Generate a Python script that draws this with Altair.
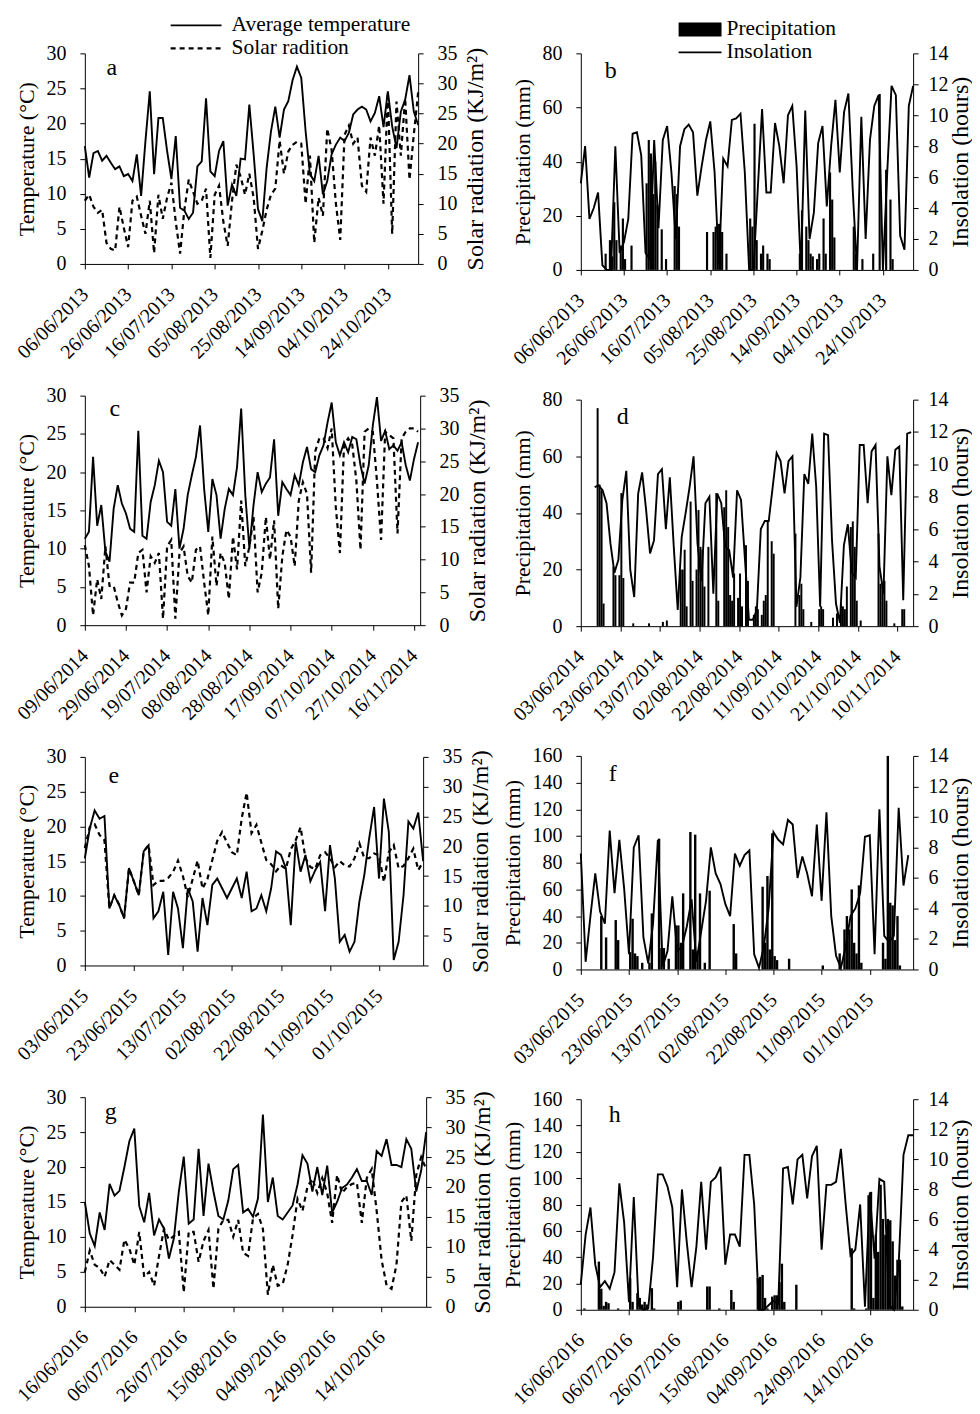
import altair as alt
import pandas as pd

FONT = "Liberation Serif"

# ---------------- 2013 (panels a, b) ----------------
A_START = "2013-06-06"
A_DOMAIN = ["2013-06-06", "2013-11-07"]
A_TICKS = ["2013-06-06", "2013-06-26", "2013-07-16", "2013-08-05",
           "2013-08-25", "2013-09-14", "2013-10-04", "2013-10-24"]
a_temp = [16.8, 12.3, 15.8, 16.1, 14.7, 15.4, 14.4, 13.5, 13.9, 12.5,
          12.8, 11.8, 15.6, 9.7, 17.5, 24.6, 12.8, 20.8, 20.8, 16.1,
          12.1, 18.2, 8.0, 7.6, 6.4, 7.3, 13.9, 14.6, 23.6, 13.2,
          12.5, 16.1, 17.5, 8.3, 11.3, 9.7, 15.0, 14.9, 22.7, 15.6,
          7.8, 6.1, 13.7, 18.9, 22.4, 18.0, 22.0, 23.2, 26.2, 28.1,
          26.5, 18.9, 12.8, 11.8, 15.4, 9.9, 11.8, 15.6, 17.0, 18.0,
          17.5, 18.7, 21.3, 22.0, 22.4, 22.0, 20.3, 21.5, 23.9, 19.5,
          24.6, 19.6, 16.5, 21.7, 23.4, 26.9, 21.7, 19.8]
a_solar = [10.5, 11.5, 9.5, 8.5, 9.0, 3.5, 2.5, 2.2, 9.5, 6.0,
           2.8, 10.5, 11.2, 8.0, 5.0, 10.5, 1.8, 11.5, 7.5, 11.0,
           13.5, 7.0, 1.7, 9.0, 14.0, 12.0, 10.0, 10.5, 12.5, 1.0,
           11.5, 13.0, 7.0, 3.0, 10.5, 16.5, 14.5, 11.5, 15.0, 11.0,
           2.5, 5.5, 9.0, 11.5, 12.5, 20.5, 15.0, 18.7, 19.8, 20.3,
           20.0, 10.0, 18.0, 3.5, 11.0, 8.0, 22.5, 19.0, 10.0, 4.0,
           21.5, 23.0, 20.0, 21.0, 13.0, 12.0, 21.0, 18.0, 23.0, 10.0,
           28.5, 5.0, 27.0, 18.0, 27.5, 14.0, 21.5, 28.5]
b_insol = [5.6, 8.0, 3.3, 4.0, 5.0, 0.3, 0, 0, 8.0, 1.1,
           1.8, 3.3, 8.8, 8.9, 7.4, 1.1, 0.7, 8.4, 2.7, 8.4,
           9.3, 6.3, 2.0, 8.0, 9.1, 9.4, 8.9, 4.8, 6.7, 8.4,
           9.6, 6.3, 0.3, 7.2, 6.7, 9.7, 9.8, 10.1, 6.3, 0,
           0, 5.2, 10.4, 5.0, 5.0, 9.5, 8.0, 5.6, 10.0, 10.6,
           6.7, 0, 10.3, 2.0, 3.7, 8.2, 9.3, 4.1, 8.0, 11.0,
           6.3, 10.2, 11.4, 5.2, 0, 9.9, 2.0, 8.4, 10.6, 11.3,
           0, 6.3, 11.9, 11.3, 2.2, 1.3, 10.6, 11.9]
b_rain_day = [11, 13, 14, 15, 16, 18, 19, 20, 23, 30, 31, 32, 33, 34, 35, 37, 39,
              43, 44, 45, 58, 61, 62, 63, 64, 65, 67, 78, 79, 80, 81, 83, 84, 86,
              87, 101, 102, 104, 105, 106, 107, 109, 110, 112, 113, 115, 116, 117,
              126, 127, 130, 135, 138, 141, 143, 144]
b_rain_mm = [6, 11, 5, 25, 11, 9, 19, 4, 9, 32, 48, 43, 28, 40, 24, 15, 4,
             31, 28, 16, 14, 14, 16, 17, 17, 14, 6, 19, 16, 54, 11, 6, 9, 6,
             4, 6, 22, 16, 11, 6, 5, 4, 6, 19, 6, 36, 26, 12,
             16, 6, 4, 6, 65, 37, 26, 4]

# ---------------- 2014 (panels c, d) ----------------
C_START = "2014-06-09"
C_DOMAIN = ["2014-06-09", "2014-11-19"]
C_TICKS = ["2014-06-09", "2014-06-29", "2014-07-19", "2014-08-08", "2014-08-28",
           "2014-09-17", "2014-10-07", "2014-10-27", "2014-11-16"]
c_temp = [11.3, 12.2, 22.0, 13.0, 15.7, 9.6, 8.3, 15.2, 18.3, 15.9,
          14.6, 12.6, 12.2, 25.4, 11.7, 11.3, 16.1, 18.3, 21.5, 20.0,
          13.5, 13.0, 17.8, 10.0, 12.6, 17.0, 19.6, 22.0, 26.1, 17.8,
          12.2, 19.1, 17.0, 11.3, 15.2, 17.8, 17.0, 20.7, 28.3, 17.0,
          10.0, 15.7, 20.0, 17.4, 18.5, 19.3, 24.3, 14.3, 18.7, 17.8,
          17.0, 19.6, 18.3, 21.3, 23.3, 20.4, 20.0, 22.2, 23.5, 26.5,
          29.1, 23.9, 22.2, 23.9, 22.6, 24.6, 24.3, 20.9, 18.5, 20.9,
          26.1, 29.8, 24.1, 25.4, 23.0, 23.5, 22.8, 23.9, 20.9, 18.9,
          21.7, 23.9]
c_solar = [12.2, 9.0, 1.5, 7.0, 4.0, 12.0, 6.0, 6.0, 3.5, 1.5,
           2.5, 6.5, 6.5, 11.0, 11.5, 5.0, 10.5, 9.5, 11.0, 1.0,
           12.0, 13.0, 1.0, 11.0, 12.0, 7.5, 6.5, 11.5, 12.0, 6.5,
           1.5, 13.5, 6.0, 11.0, 9.5, 4.0, 13.5, 8.5, 19.0, 9.0,
           12.0, 16.5, 5.0, 8.0, 16.5, 10.0, 16.0, 2.5, 10.5, 14.5,
           13.5, 9.0, 19.0, 21.8, 20.0, 8.0, 26.5, 28.5, 28.5, 27.0,
           30.0, 18.0, 11.0, 27.5, 28.5, 27.5, 22.0, 11.5, 29.5, 30.0,
           29.5, 22.0, 13.0, 29.5, 29.0, 28.5, 14.0, 28.5, 29.5, 30.0,
           30.0, 29.5]
D_START = "2014-06-10"
D_DOMAIN = ["2014-06-03", "2014-11-18"]
D_RAIN_ORIGIN = "2014-06-03"
D_TICKS = ["2014-06-03", "2014-06-23", "2014-07-13", "2014-08-02", "2014-08-22",
           "2014-09-11", "2014-10-01", "2014-10-21", "2014-11-10"]
d_insol = [8.6, 8.7, 8.4, 7.6, 5.1, 3.3, 4.1, 7.8, 9.6, 3.5,
           1.8, 8.2, 9.5, 7.2, 4.5, 5.3, 9.4, 9.7, 6.0, 9.2,
           4.9, 1.0, 5.5, 7.0, 8.6, 10.5, 5.1, 2.8, 7.6, 8.0,
           2.0, 8.2, 7.6, 4.9, 4.7, 3.0, 8.4, 7.8, 4.1, 0.4,
           0.4, 1.0, 6.0, 6.5, 6.5, 8.6, 10.7, 10.2, 8.2, 10.2,
           10.5, 1.2, 3.0, 9.4, 8.8, 11.9, 8.6, 1.2, 11.9, 11.8,
           5.3, 1.4, 0.2, 5.0, 6.3, 3.3, 3.0, 11.2, 11.2, 7.6,
           10.8, 11.2, 3.7, 2.0, 10.5, 8.1, 10.9, 11.1, 1.6, 11.9,
           12.0]
d_rain_day = [8, 9, 10, 11, 16, 17, 19, 20, 21, 26, 34, 41, 43, 50, 51, 52, 53, 55,
              56, 58, 59, 60, 61, 62, 64, 68, 69, 72, 73, 74, 75, 76, 77, 79, 80,
              81, 83, 84, 87, 88, 89, 91, 92, 93, 94, 96, 97, 108, 110, 111, 112,
              116, 120, 121, 122, 127, 129, 131, 132, 133, 134, 136, 137, 138, 139,
              141, 150, 151, 152, 153, 154, 158, 162, 163]
d_rain_mm = [77, 50, 48, 8, 21, 18, 18, 47, 17, 1, 1, 1.5, 2, 20, 20, 27, 7, 44,
             16, 20, 41, 28, 27, 14, 28, 47, 9, 42, 48, 35, 11, 9, 18.6, 10, 18.6,
             7, 28.6, 16, 4, 7, 6, 4, 9, 11, 37, 30, 25.6, 32.7, 11, 15, 6,
             1.5, 6, 7, 6, 3, 4.5, 8, 7, 6, 14, 35, 37, 28, 9,
             2, 32.7, 15, 14, 16, 9, 1, 6, 6]

# ---------------- 2015 (panels e, f) ----------------
E_START = "2015-06-03"
E_DOMAIN = ["2015-06-03", "2015-10-19"]
E_TICKS = ["2015-06-03", "2015-06-23", "2015-07-13", "2015-08-02",
           "2015-08-22", "2015-09-11", "2015-10-01"]
e_temp = [15.4, 19.7, 22.3, 21.1, 21.5, 8.2, 10.1, 8.7, 6.8, 14.0,
          12.1, 10.1, 16.4, 17.3, 6.8, 7.8, 10.6, 1.5, 10.6, 8.2,
          2.5, 11.1, 9.2, 2.0, 9.7, 5.8, 11.6, 12.5, 11.1, 9.7,
          11.1, 12.5, 9.7, 13.5, 7.8, 8.2, 10.1, 7.8, 11.1, 16.4,
          15.9, 14.0, 5.8, 17.8, 13.5, 15.9, 12.1, 13.7, 14.9, 7.8,
          17.3, 12.5, 3.4, 4.4, 2.0, 3.4, 9.2, 13.0, 18.3, 22.8,
          12.5, 24.0, 19.2, 0.8, 3.4, 10.1, 20.7, 19.7, 22.0, 15.0]
e_solar = [19.7, 23.2, 23.7, 21.9, 21.0, 9.6, 11.8, 10.2, 7.9, 16.3,
           14.1, 11.8, 19.1, 20.2, 13.5, 14.2, 14.2, 14.7, 15.7, 17.6,
           15.0, 11.5, 14.5, 17.6, 12.9, 14.5, 17.7, 20.9, 22.4, 20.6,
           19.0, 18.5, 24.7, 29.0, 22.2, 23.6, 20.6, 17.7, 17.0, 15.8,
           16.8, 16.2, 19.5, 21.0, 23.2, 18.0, 16.5, 16.2, 18.5, 19.0,
           18.0, 16.5, 17.5, 16.8, 16.6, 18.0, 20.5, 18.0, 18.0, 18.8,
           18.5, 14.0, 19.0, 20.2, 16.3, 16.7, 18.0, 19.6, 16.0, 17.4]
f_insol = [7.6, 0.5, 3.5, 6.3, 3.8, 3.0, 9.1, 5.0, 8.5, 5.3,
           1.0, 8.0, 8.8, 2.1, 0.4, 3.0, 8.5, 0.2, 1.2, 4.8,
           1.2, 1.5, 2.8, 4.6, 0.5, 2.5, 4.5, 8.0, 6.3, 5.6,
           4.3, 3.5, 7.6, 6.8, 7.5, 7.8, 1.0, 0.1, 1.5, 4.0,
           9.0, 8.5, 8.2, 9.8, 9.5, 6.0, 7.4, 6.3, 4.8, 9.5,
           4.5, 10.3, 3.5, 0.9, 0.1, 1.5, 3.5, 4.0, 5.0, 8.7,
           8.8, 1.0, 10.5, 2.2, 1.8, 2.2, 10.6, 5.5, 7.5]
f_rain_day = [8, 10, 14, 15, 20, 21, 22, 23, 25, 28, 29, 32, 33, 34, 36, 39, 40, 41,
              42, 45, 46, 47, 48, 49, 51, 53, 63, 64, 75, 76, 77, 78, 79, 80, 81,
              86, 100, 107, 109, 110, 111, 112, 113, 114, 115, 116, 125, 126, 127,
              128, 129, 130, 131, 132]
f_rain_mm = [40, 24, 37, 22, 13, 38, 12, 10, 5, 5, 42, 98, 16, 16, 8, 33, 33, 20,
             57, 103, 15, 101, 14, 57, 5, 59, 34, 12, 62, 20, 70, 15, 102, 10, 7,
             8, 3, 12, 30, 40, 30, 60, 20, 12, 63, 5, 20, 8, 160,
             50, 48, 22, 40, 3]

# ---------------- 2016 (panels g, h) ----------------
G_START = "2016-06-16"
G_DOMAIN = ["2016-06-16", "2016-11-01"]
G_TICKS = ["2016-06-16", "2016-07-06", "2016-07-26", "2016-08-15",
           "2016-09-04", "2016-09-24", "2016-10-14"]
g_temp = [15.0, 10.5, 8.7, 13.5, 11.0, 17.6, 15.9, 16.6, 20.0, 23.7,
          25.5, 14.4, 12.1, 16.3, 10.2, 12.5, 11.2, 6.9, 9.8, 16.5,
          21.5, 11.9, 12.5, 22.6, 13.0, 20.5, 16.5, 13.0, 12.5, 15.2,
          19.7, 20.3, 13.5, 14.0, 12.9, 15.5, 27.5, 15.0, 18.5, 13.0,
          12.5, 13.5, 14.5, 17.5, 21.7, 20.5, 16.5, 20.0, 16.0, 20.2,
          13.5, 15.0, 17.0, 17.5, 18.5, 19.7, 18.0, 18.0, 16.0, 22.3,
          21.6, 24.0, 20.3, 20.3, 20.0, 24.0, 22.6, 16.5, 19.5, 25.0]
g_solar = [5.8, 9.4, 7.0, 6.5, 5.0, 7.8, 7.0, 6.2, 11.2, 9.7,
           7.0, 12.5, 5.0, 5.8, 3.5, 8.5, 13.0, 11.2, 11.8, 12.5,
           2.4, 12.5, 12.5, 7.5, 11.0, 12.8, 3.0, 13.0, 14.5, 14.5,
           11.7, 14.5, 9.0, 8.5, 14.8, 15.5, 13.0, 2.0, 7.0, 3.5,
           3.8, 7.0, 12.0, 18.0, 16.0, 20.0, 21.4, 19.0, 21.5, 19.0,
           14.0, 22.0, 19.0, 20.0, 20.5, 20.7, 14.0, 21.5, 23.0, 16.0,
           7.8, 3.6, 3.0, 7.0, 17.5, 18.6, 11.0, 22.0, 25.0, 23.0]
h_insol = [1.7, 5.0, 6.8, 3.0, 1.5, 1.9, 1.4, 2.5, 8.4, 5.8,
           0.5, 7.5, 0.3, 0, 0.1, 3.5, 9.0, 9.0, 8.2, 6.8,
           1.5, 8.0, 4.5, 1.5, 4.2, 8.5, 4.0, 8.5, 8.8, 9.5,
           3.0, 5.0, 5.0, 4.2, 10.3, 10.3, 7.0, 0, 0, 0.3,
           0.6, 0.4, 9.4, 9.5, 7.0, 10.0, 10.3, 7.4, 10.2, 10.9,
           4.0, 8.3, 8.3, 8.5, 10.7, 7.0, 3.6, 4.0, 7.0, 0.2,
           7.8, 3.4, 8.7, 8.5, 0.3, 0, 3.0, 10.3, 11.6, 11.6]
h_rain_day = [1, 7, 8, 9, 10, 11, 15, 20, 21, 23, 24, 25, 26, 27, 29, 30, 40, 41,
              52, 53, 57, 62, 63, 73, 74, 75, 76, 77, 79, 80, 81, 82, 83, 84, 89,
              112, 113, 118, 119, 120, 121, 122, 123, 124, 125, 126, 127, 128, 129,
              130, 131, 132, 133]
h_rain_mm = [1, 36.6, 16, 3, 6, 5, 1, 24, 6, 12.6, 9, 4, 6, 4, 16.4, 1, 6, 7,
             17.7, 17.7, 1, 15, 6, 24, 25, 26.5, 9, 1, 10, 11, 11, 21, 35, 6, 19,
             46.7, 1, 1, 87, 89.6, 9, 57, 44, 95, 69, 57, 69, 68, 52,
             26, 38, 38, 2.5]


def dt(s):
    y, m, d = (int(p) for p in s.split("-"))
    return alt.DateTime(year=y, month=m, date=d)


def x_enc(domain, ticks):
    return alt.X(
        "date:T", title=None,
        scale=alt.Scale(domain=[dt(domain[0]), dt(domain[1])]),
        axis=alt.Axis(values=[dt(t) for t in ticks], format="%d/%m/%Y",
                      labelAngle=315, labelAlign="right", labelBaseline="middle",
                      labelPadding=22, labelOverlap=False, labelFlush=False),
    )


def one_text(txt, x, y, size, align="center"):
    return alt.Chart(pd.DataFrame({"t": [txt]})).mark_text(
        font=FONT, fontSize=size, align=align, baseline="middle", color="black"
    ).encode(x=alt.value(x), y=alt.value(y), text="t:N")


def seg(x1, x2, y, dash=None, width=1.6):
    kw = dict(color="black", strokeWidth=width)
    if dash:
        kw["strokeDash"] = dash
    return alt.Chart(pd.DataFrame({"k": [0]})).mark_rule(**kw).encode(
        x=alt.value(x1), x2=alt.value(x2), y=alt.value(y))


def temp_panel(start, temp, solar, domain, ticks, letter, lpos, w, h, legend=False):
    df = pd.DataFrame({"date": pd.date_range(start, periods=len(temp), freq="2D"),
                       "temp": temp, "solar": solar})
    x = x_enc(domain, ticks)
    t = alt.Chart(df).mark_line(color="black", strokeWidth=1.9).encode(
        x=x,
        y=alt.Y("temp:Q", scale=alt.Scale(domain=[0, 30]),
                axis=alt.Axis(orient="left", values=list(range(0, 31, 5)),
                              title="Temperature (°C)", titlePadding=7,
                              labelPadding=14)))
    s = alt.Chart(df).mark_line(color="black", strokeWidth=2.2, strokeDash=[5, 4]).encode(
        x=x,
        y=alt.Y("solar:Q", scale=alt.Scale(domain=[0, 35]),
                axis=alt.Axis(orient="right", values=list(range(0, 36, 5)),
                              title="Solar radiation (KJ/m²)", titleAngle=270,
                              titleBaseline="top", titlePadding=6, labelPadding=14,
                              titleFontSize=24)))
    layers = [t, s, one_text(letter, lpos[0], lpos[1], 24)]
    if legend:
        layers += [seg(86, 137, -28), one_text("Average temperature", 147, -28, 21.5, "left"),
                   seg(86, 137, -5, dash=[5, 4], width=2.2),
                   one_text("Solar radition", 147, -5, 21.5, "left")]
    return alt.layer(*layers).resolve_scale(y="independent").properties(width=w, height=h)


def rain_panel(start, insol, origin, rday, rmm, domain, ticks, pmax, letter, lpos, w, h,
               legend=False):
    df = pd.DataFrame({"date": pd.date_range(start, periods=len(insol), freq="2D"),
                       "insol": insol})
    o = pd.Timestamp(origin)
    rd = pd.DataFrame({"date": [o + pd.Timedelta(days=d) for d in rday], "mm": rmm})
    rd["date2"] = rd["date"] + pd.Timedelta(days=1)
    x = x_enc(domain, ticks)
    bars = alt.Chart(rd).mark_bar(color="black").encode(
        x=x, x2="date2:T",
        y=alt.Y("mm:Q", scale=alt.Scale(domain=[0, pmax]),
                axis=alt.Axis(orient="left", values=list(range(0, pmax + 1, 20)),
                              title="Precipitation (mm)", titlePadding=7,
                              labelPadding=14)),
        y2=alt.datum(0))
    line = alt.Chart(df).mark_line(color="black", strokeWidth=1.9).encode(
        x=x,
        y=alt.Y("insol:Q", scale=alt.Scale(domain=[0, 14]),
                axis=alt.Axis(orient="right", values=list(range(0, 15, 2)),
                              title="Insolation (hours)", titleAngle=270,
                              titleBaseline="top", titlePadding=0, labelPadding=10,
                              titleFontSize=24)))
    layers = [bars, line, one_text(letter, lpos[0], lpos[1], 24)]
    if legend:
        box = alt.Chart(pd.DataFrame({"k": [0]})).mark_rect(color="black").encode(
            x=alt.value(98), x2=alt.value(141), y=alt.value(-31), y2=alt.value(-17))
        layers += [box, one_text("Precipitation", 146, -24, 21.5, "left"),
                   seg(98, 141, -1), one_text("Insolation", 146, -1, 21.5, "left")]
    return alt.layer(*layers).resolve_scale(y="independent").properties(width=w, height=h)


pa = temp_panel(A_START, a_temp, a_solar, A_DOMAIN, A_TICKS, "a", (27, 15), 334, 211, True)
pb = rain_panel(A_START, b_insol, A_START, b_rain_day, b_rain_mm, A_DOMAIN, A_TICKS, 80,
                "b", (30, 18), 333, 217, True)
pc = temp_panel(C_START, c_temp, c_solar, C_DOMAIN, C_TICKS, "c", (30, 13), 336, 230)
pd_ = rain_panel(D_START, d_insol, D_RAIN_ORIGIN, d_rain_day, d_rain_mm, D_DOMAIN, D_TICKS,
                 80, "d", (42, 17), 333, 227)
pe = temp_panel(E_START, e_temp, e_solar, E_DOMAIN, E_TICKS, "e", (29, 19), 339, 209)
pf = rain_panel(E_START, f_insol, E_START, f_rain_day, f_rain_mm, E_DOMAIN, E_TICKS, 160,
                "f", (32, 18), 333, 214)
pg = temp_panel(G_START, g_temp, g_solar, G_DOMAIN, G_TICKS, "g", (26, 15), 342, 210)
ph = rain_panel(G_START, h_insol, G_START, h_rain_day, h_rain_mm, G_DOMAIN, G_TICKS, 160,
                "h", (34, 16), 333, 211)

left = alt.vconcat(pa, pc, pe, pg, spacing=23)
right = alt.vconcat(pb, pd_, pf, ph, spacing=21)

chart = alt.hconcat(left, right, spacing=7).configure_view(stroke=None).configure_axis(
    labelFont=FONT, titleFont=FONT, labelFontSize=20, titleFontSize=22,
    titleFontWeight="normal", labelColor="black", titleColor="black",
    domainColor="black", tickColor="black", grid=False, tickSize=5,
    domainWidth=1, tickWidth=1,
).properties(padding={"left": 5, "top": 5, "right": 0, "bottom": 0})

chart.save("out.html", embed_options={"renderer": "svg", "actions": False})
